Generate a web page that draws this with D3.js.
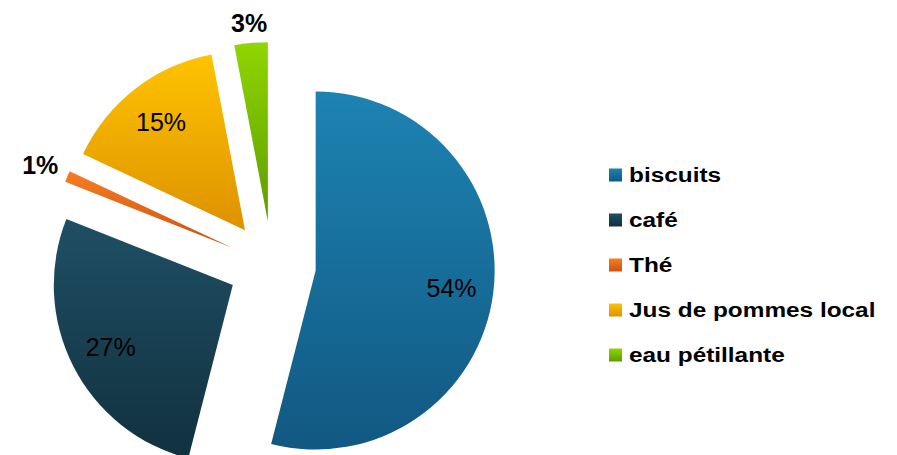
<!DOCTYPE html>
<html>
<head>
<meta charset="utf-8">
<script src="https://cdn.jsdelivr.net/npm/d3@7"></script>
<style>
  html, body { margin: 0; padding: 0; background: #ffffff; }
  svg { display: block; }
</style>
</head>
<body>
<svg id="chart" width="897" height="455"></svg>
<script>
// Consumption shares by product (percent)
const categories = ["biscuits", "café", "Thé", "Jus de pommes local", "eau pétillante"];
const shares = [54, 27, 1, 15, 3];
// Vertical gradient stops for each slice (light top, darker bottom)
const topColors = ["#1d83b2", "#1f4f65", "#f77d22", "#ffc300", "#90d600"];
const bottomColors = ["#115882", "#11313e", "#cb5214", "#dd9200", "#5c9c00"];

const svg = d3.select("#chart");
const W = 897, H = 455;

const cx = 272, cy = 265;      // pie centre
const radius = 179;            // slice radius
const explode = 44;            // distance each slice is pulled out
const insideR = 137;           // label distance from a slice's apex
const smallShare = 5;          // below this, labels go outside in bold

const defs = svg.append("defs");
categories.forEach((c, i) => {
  const g = defs.append("linearGradient")
    .attr("id", "grad" + i)
    .attr("x1", 0).attr("y1", 0).attr("x2", 0).attr("y2", 1);
  g.append("stop").attr("offset", "0%").attr("stop-color", topColors[i]);
  g.append("stop").attr("offset", "100%").attr("stop-color", bottomColors[i]);
});

const pie = d3.pie().sort(null).value(d => d)
  .startAngle(0).endAngle(2 * Math.PI);
const arcs = pie(shares);
const arcGen = d3.arc().innerRadius(0).outerRadius(radius);

const pieG = svg.append("g").attr("transform", `translate(${cx},${cy})`);

const slice = pieG.selectAll("g.slice")
  .data(arcs)
  .join("g")
  .attr("class", "slice")
  .attr("transform", d => {
    const a = (d.startAngle + d.endAngle) / 2;
    return `translate(${explode * Math.sin(a)},${-explode * Math.cos(a)})`;
  });

slice.append("path")
  .attr("d", arcGen)
  .attr("fill", (d, i) => `url(#grad${i})`);

// Percent labels
const labelSize = 25;
slice.append("text")
  .attr("text-anchor", "middle")
  .attr("dy", "0.36em")
  .style("font-family", "'Liberation Sans', Arial, sans-serif")
  .style("font-size", labelSize + "px")
  .style("font-weight", d => d.data < smallShare ? "bold" : "normal")
  .attr("fill", "#000")
  .attr("x", d => {
    const a = (d.startAngle + d.endAngle) / 2;
    return labelDist(d, a) * Math.sin(a);
  })
  .attr("y", d => {
    const a = (d.startAngle + d.endAngle) / 2;
    return -labelDist(d, a) * Math.cos(a);
  })
  .text(d => d3.format("d")(d.data) + "%");

function labelDist(d, a) {
  if (d.data >= smallShare) return insideR;
  const text = d.data + "%";
  const halfW = text.length * labelSize * 0.37;
  const halfH = labelSize * 0.36;
  return radius + 9 + halfW * Math.abs(Math.sin(a)) + halfH * Math.abs(Math.cos(a));
}

// Legend
const legendX = 609;
const rowY = d3.scalePoint().domain(categories).range([175, 355]);
const sw = 13;

const legend = svg.append("g");
const item = legend.selectAll("g.item")
  .data(categories)
  .join("g")
  .attr("class", "item")
  .attr("transform", d => `translate(${legendX},${rowY(d)})`);

item.append("rect")
  .attr("x", 0).attr("y", -sw / 2)
  .attr("width", sw).attr("height", sw)
  .attr("fill", (d, i) => `url(#grad${i})`);

item.append("text")
  .attr("transform", "translate(20,0) scale(1.25,1)")
  .attr("dy", "0.36em")
  .style("font-family", "'Liberation Sans', Arial, sans-serif")
  .style("font-size", "19.5px")
  .style("font-weight", "bold")
  .attr("fill", "#000")
  .text(d => d);
</script>
</body>
</html>
